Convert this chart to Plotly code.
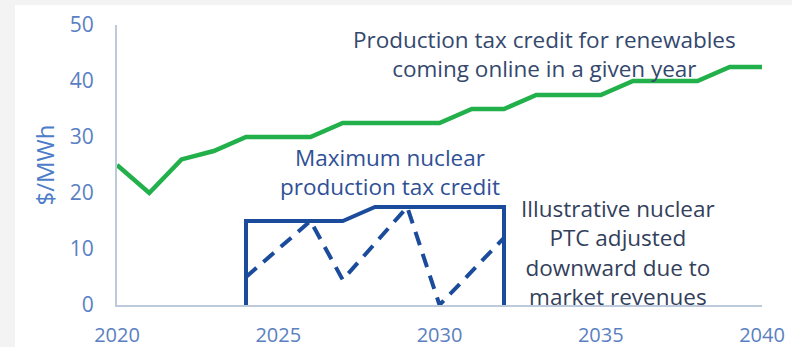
import plotly.graph_objects as go

# Data
ren_years = list(range(2020, 2041))
ren_ptc = [25, 20, 26, 27.5, 30, 30, 30, 32.5, 32.5, 32.5, 32.5, 35, 35, 37.5, 37.5, 37.5, 40, 40, 40, 42.5, 42.5]

nuc_max_years = [2024, 2024, 2027, 2028, 2032, 2032]
nuc_max_vals = [0, 15, 15, 17.5, 17.5, 0]

nuc_ill_years = [2024, 2026, 2027, 2029, 2030, 2032]
nuc_ill_vals = [5, 15, 4.5, 17.5, 0, 12]

x_ticks = [2020, 2025, 2030, 2035, 2040]
y_ticks = [0, 10, 20, 30, 40, 50]

GREEN = "#22b04b"
BLUE = "#1b4b9b"
TICK = "#5a80c2"
FONT = "Open Sans"

fig = go.Figure()
fig.add_trace(go.Scatter(x=ren_years, y=ren_ptc, mode="lines",
                         line=dict(color=GREEN, width=4.5), hoverinfo="skip"))
fig.add_trace(go.Scatter(x=nuc_ill_years, y=nuc_ill_vals, mode="lines",
                         line=dict(color=BLUE, width=4, dash="14px,9px"), hoverinfo="skip"))
fig.add_trace(go.Scatter(x=nuc_max_years, y=nuc_max_vals, mode="lines",
                         line=dict(color=BLUE, width=4), hoverinfo="skip"))

# plot area: x 117..762 px, y 25..305 px
L, R, T, B = 117, 30, 25, 42
W, H = 792, 347
pw, ph = W - L - R, H - T - B

def px(p):
    return (p - L) / pw

def py(q):
    return (H - B - q) / ph

shapes = [
    dict(type="rect", xref="paper", yref="paper", x0=px(15), x1=px(800),
         y0=py(360), y1=py(5), fillcolor="white", line=dict(width=0), layer="below"),
]

annotations = [
    dict(x=2033.25, y=44.8, text="Production tax credit for renewables<br>coming online in a given year",
         showarrow=False, xanchor="center", yanchor="middle",
         font=dict(family=FONT, size=22.5, color="#34486e")),
    dict(x=2028.45, y=23.75, text="Maximum nuclear<br>production tax credit",
         showarrow=False, xanchor="center", yanchor="middle",
         font=dict(family=FONT, size=22.5, color="#2f5096")),
    dict(x=2035.52, y=9.3, text="Illustrative nuclear<br>PTC adjusted<br>downward due to<br>market revenues",
         showarrow=False, xanchor="center", yanchor="middle",
         font=dict(family=FONT, size=22.5, color="#333f5c")),
]

fig.update_layout(
    width=W, height=H,
    margin=dict(l=L, r=R, t=T, b=B, pad=0, autoexpand=False),
    paper_bgcolor="#f3f3f3", plot_bgcolor="white",
    showlegend=False,
    shapes=shapes,
    annotations=annotations,
    xaxis=dict(range=[2020, 2040], tickvals=x_ticks, showgrid=False, zeroline=False,
               showline=True, linecolor="#bccadb", linewidth=2, automargin=False,
               tickfont=dict(family=FONT, size=20, color=TICK), ticks="", ticklabelstandoff=11),
    yaxis=dict(range=[0, 50], tickvals=y_ticks, showgrid=False, zeroline=False,
               showline=True, linecolor="#bccadb", linewidth=2, automargin=False,
               tickfont=dict(family=FONT, size=21, color=TICK), ticks="", ticklabelstandoff=17,
               title=dict(text="$/MWh", font=dict(family=FONT, size=24, color="#4d7cc8"), standoff=8)),
)

fig.write_html("out.html")
